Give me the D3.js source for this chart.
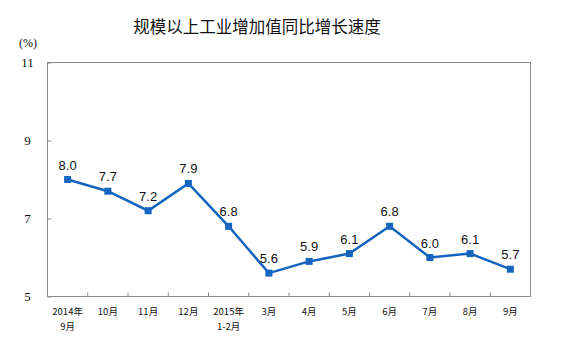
<!DOCTYPE html>
<html>
<head>
<meta charset="utf-8">
<script src="https://cdn.jsdelivr.net/npm/d3@7"></script>
<style>
  html, body { margin: 0; padding: 0; background: #fff; }
  svg { display: block; }
</style>
</head>
<body>
<svg id="chart" width="563" height="348"></svg>
<script>
// Monthly year-on-year growth of industrial value added (%)
const categories = ["2014年\n9月", "10月", "11月", "12月", "2015年\n1-2月", "3月", "4月", "5月", "6月", "7月", "8月", "9月"];
const growth = [8.0, 7.7, 7.2, 7.9, 6.8, 5.6, 5.9, 6.1, 6.8, 6.0, 6.1, 5.7];
const yTicks = [5, 7, 9, 11];
const title = "规模以上工业增加值同比增长速度";
const unitLabel = "(%)";

const svg = d3.select("#chart");
const plot = { left: 47.5, right: 530.5, top: 62.5, bottom: 296.5 };
const blue = "#1565c0";

const x = d3.scaleBand().domain(d3.range(categories.length)).range([plot.left, plot.right]);
const y = d3.scaleLinear().domain([5, 11]).range([plot.bottom, plot.top]);

// title
svg.append("text")
  .attr("x", 257).attr("y", 33)
  .attr("text-anchor", "middle")
  .attr("font-family", "'Noto Sans CJK SC', sans-serif")
  .attr("font-size", 16.5)
  .attr("fill", "#111")
  .text(title);

// unit label
svg.append("text")
  .attr("x", 28).attr("y", 47)
  .attr("text-anchor", "middle")
  .attr("font-family", "'Liberation Serif', serif")
  .attr("font-size", 12)
  .attr("fill", "#111")
  .text(unitLabel);

// plot frame
svg.append("rect")
  .attr("x", plot.left).attr("y", plot.top)
  .attr("width", plot.right - plot.left).attr("height", plot.bottom - plot.top)
  .attr("fill", "none").attr("stroke", "#8c8c8c").attr("stroke-width", 1);

// y axis: inner ticks, serif labels
const yAxis = d3.axisRight(y).tickValues(yTicks).tickSize(4).tickFormat(d3.format("d"));
const yg = svg.append("g").attr("transform", `translate(${plot.left},0)`).call(yAxis);
yg.select(".domain").remove();
yg.selectAll(".tick line").attr("stroke", "#8c8c8c");
yg.selectAll(".tick text")
  .attr("x", -20).attr("text-anchor", "middle")
  .attr("font-family", "'Liberation Serif', serif")
  .attr("font-size", 13).attr("fill", "#111");

// x axis: boundary ticks pointing up into the plot
const bounds = d3.range(1, categories.length);
svg.append("g").selectAll("line").data(bounds).join("line")
  .attr("x1", d => x(d)).attr("x2", d => x(d))
  .attr("y1", plot.bottom).attr("y2", plot.bottom - 4)
  .attr("stroke", "#8c8c8c");

const xl = svg.append("g").selectAll("text").data(categories).join("text")
  .attr("x", (d, i) => x(i) + x.bandwidth() / 2)
  .attr("y", 315)
  .attr("text-anchor", "middle")
  .attr("font-family", "'Noto Sans CJK SC', sans-serif")
  .attr("font-size", 9.5)
  .attr("fill", "#111");
xl.each(function(d) {
  const lines = d.split("\n");
  const t = d3.select(this);
  lines.forEach((s, k) => {
    t.append("tspan").attr("x", t.attr("x")).attr("dy", k === 0 ? 0 : 15).text(s);
  });
});

// line
const line = d3.line()
  .x((d, i) => x(i) + x.bandwidth() / 2)
  .y(d => y(d));
svg.append("path").datum(growth)
  .attr("d", line)
  .attr("fill", "none")
  .attr("stroke", blue)
  .attr("stroke-width", 2.5)
  .attr("stroke-linejoin", "miter");

// square markers
svg.append("g").selectAll("rect").data(growth).join("rect")
  .attr("x", (d, i) => x(i) + x.bandwidth() / 2 - 3.5)
  .attr("y", d => y(d) - 3.5)
  .attr("width", 7).attr("height", 7)
  .attr("fill", blue);

// value labels
svg.append("g").selectAll("text").data(growth).join("text")
  .attr("x", (d, i) => x(i) + x.bandwidth() / 2)
  .attr("y", d => y(d) - 10)
  .attr("text-anchor", "middle")
  .attr("font-family", "'Liberation Sans', Arial, sans-serif")
  .attr("font-size", 13)
  .attr("fill", "#111")
  .text(d => d.toFixed(1));
</script>
</body>
</html>
